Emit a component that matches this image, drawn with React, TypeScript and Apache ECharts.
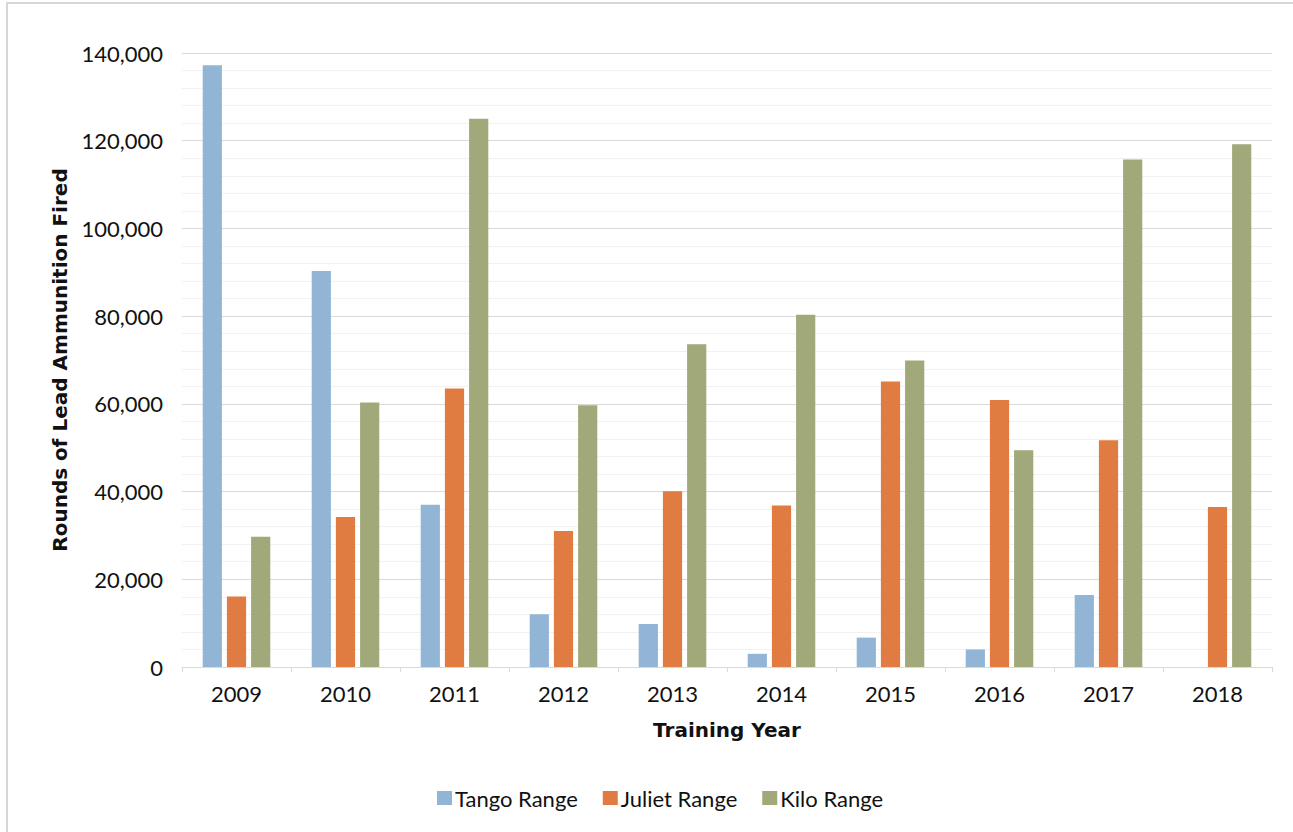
import React, { useEffect, useRef } from "react";
import * as echarts from "echarts";

const years = ["2009", "2010", "2011", "2012", "2013", "2014", "2015", "2016", "2017", "2018"];
const tango = [137200, 90300, 37000, 12000, 9800, 3000, 6700, 4000, 16400, 0];
const juliet = [16100, 34200, 63500, 31000, 40100, 36800, 65100, 60900, 51700, 36500];
const kilo = [29700, 60300, 125000, 59700, 73600, 80300, 69900, 49400, 115700, 119200];
const seriesNames = ["Tango Range", "Juliet Range", "Kilo Range"];
const colors = ["#92B4D5", "#E07C41", "#A1A97A"];

const FONT = "Lato";
const TITLE_FONT = "DejaVu Sans";

export default function App() {
  const ref = useRef<HTMLDivElement>(null);
  useEffect(() => {
    if (!ref.current) return;
    const chart = echarts.init(ref.current, null, { renderer: "svg" });
    const data = [tango, juliet, kilo];
    chart.setOption({
      animation: false,
      backgroundColor: "#ffffff",
      textStyle: { fontFamily: FONT },
      graphic: [
        {
          type: "rect",
          shape: { x: 7, y: 3, width: 1320, height: 900 },
          style: { fill: "none", stroke: "#d6d6d6", lineWidth: 2 },
          silent: true,
        },
      ],
      grid: { left: 182, right: 21, top: 53, bottom: 165 },
      legend: {
        left: 432,
        top: 782,
        itemWidth: 15,
        itemHeight: 14,
        itemGap: 25,
        icon: "rect",
        textStyle: { fontFamily: FONT, fontSize: 22, color: "#111", padding: [0, 0, 0, -2] },
        data: seriesNames,
      },
      xAxis: {
        type: "category",
        data: years,
        name: "Training Year",
        nameLocation: "middle",
        nameGap: 53,
        nameTextStyle: { fontFamily: TITLE_FONT, fontSize: 20, fontWeight: "bold", color: "#111" },
        axisLine: { lineStyle: { color: "#d9d9d9", width: 1 } },
        axisTick: { show: true, length: 5, lineStyle: { color: "#d9d9d9" } },
        axisLabel: { fontFamily: FONT, fontSize: 22, color: "#111", margin: 15 },
      },
      yAxis: {
        type: "value",
        min: 0,
        max: 140000,
        interval: 20000,
        name: "Rounds of Lead Ammunition Fired",
        nameLocation: "middle",
        nameGap: 112,
        nameRotate: 90,
        nameTextStyle: { fontFamily: TITLE_FONT, fontSize: 20, fontWeight: "bold", color: "#111" },
        axisLine: { show: false },
        axisTick: { show: false },
        axisLabel: {
          fontFamily: FONT,
          fontSize: 22,
          color: "#111",
          margin: 19,
          formatter: (v: number) => v.toLocaleString("en-US"),
        },
        splitLine: { lineStyle: { color: "#d9d9d9", width: 1 } },
        minorTick: { show: false, splitNumber: 5 },
        minorSplitLine: { show: true, lineStyle: { color: "#f1f1f1", width: 1 } },
      },
      series: seriesNames.map((name, i) => ({
        name,
        type: "bar",
        data: data[i],
        barGap: "26%",
        barCategoryGap: "38%",
        itemStyle: { color: colors[i] },
      })),
    });
    return () => chart.dispose();
  }, []);
  return (
    <div
      ref={ref}
      style={{ position: "fixed", left: 0, top: 0, width: 1293, height: 832 }}
    />
  );
}
